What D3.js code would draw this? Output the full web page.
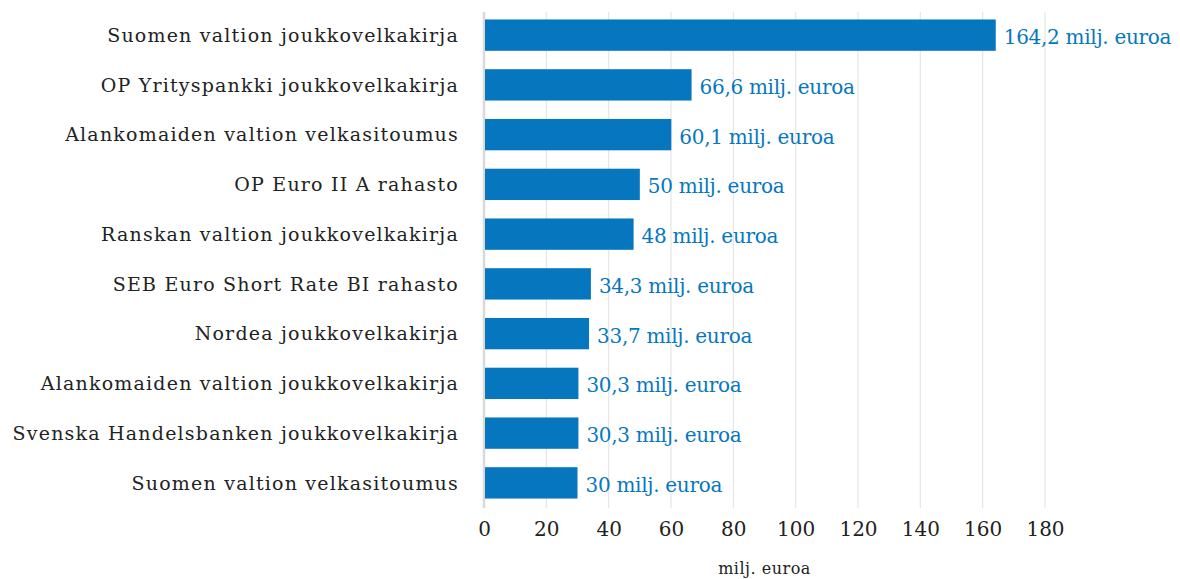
<!DOCTYPE html>
<html>
<head>
<meta charset="utf-8">
<script src="https://cdn.jsdelivr.net/npm/d3@7"></script>
<style>
  body { margin: 0; background: #fff; }
</style>
</head>
<body>
<div id="bar"></div>
<script>
// data
let categories = [
    "Suomen valtion joukkovelkakirja",
    "OP Yrityspankki joukkovelkakirja",
    "Alankomaiden valtion velkasitoumus",
    "OP Euro II A rahasto",
    "Ranskan valtion joukkovelkakirja",
    "SEB Euro Short Rate BI rahasto",
    "Nordea joukkovelkakirja",
    "Alankomaiden valtion joukkovelkakirja",
    "Svenska Handelsbanken joukkovelkakirja",
    "Suomen valtion velkasitoumus"
];
let values = [164.2, 66.6, 60.1, 50, 48, 34.3, 33.7, 30.3, 30.3, 30];
let valueLabels = ["164,2", "66,6", "60,1", "50", "48", "34,3", "33,7", "30,3", "30,3", "30"];
let ticks = [0, 20, 40, 60, 80, 100, 120, 140, 160, 180];
let axisTitle = "milj. euroa";

// svg parameters
let width = 1180;
let height = 579;

let svg = d3.select("#bar").append("svg")
    .attr("width", width).attr("height", height);

var margin = { top: 12, right: 135, bottom: 71, left: 484 };
var chartWidth = width - margin.left - margin.right;
var chartHeight = height - margin.top - margin.bottom;

let chartGroup = svg.append("g")
    .attr("transform", `translate(${margin.left}, ${margin.top})`);

// scales
var xScale = d3.scaleLinear()
    .domain([0, 180])
    .range([0, 561]);

var yScale = d3.scaleBand()
    .domain(categories)
    .range([0, chartHeight])
    .paddingInner(0.37)
    .paddingOuter(0.17);

// gridlines
chartGroup.selectAll(".grid")
    .data(ticks)
    .enter()
    .append("line")
    .attr("x1", d => xScale(d))
    .attr("x2", d => xScale(d))
    .attr("y1", 0)
    .attr("y2", chartHeight)
    .attr("stroke", d => d === 0 ? "#d9d9d9" : "#e6e6e6")
    .attr("stroke-width", d => d === 0 ? 2.5 : 1.2);

// x axis
var xAxis = d3.axisBottom(xScale)
    .tickValues(ticks)
    .tickSize(0)
    .tickPadding(14);

let axisG = chartGroup.append("g")
    .attr("transform", `translate(0, ${chartHeight})`)
    .call(xAxis);
axisG.select(".domain").remove();
axisG.selectAll("text")
    .attr("font-family", "'DejaVu Serif', serif")
    .attr("font-size", "20px")
    .attr("fill", "#222");

// axis title
svg.append("text")
    .attr("x", margin.left + xScale(90))
    .attr("y", 574)
    .attr("text-anchor", "middle")
    .attr("font-family", "'DejaVu Serif', serif")
    .attr("font-size", "16px")
    .attr("letter-spacing", "0.5px")
    .attr("fill", "#222")
    .text(axisTitle);

// bars
chartGroup.selectAll(".bar")
    .data(values)
    .enter()
    .append("rect")
    .attr("class", "bar")
    .attr("x", 1)
    .attr("y", (d, i) => yScale(categories[i]) - 1)
    .attr("width", d => xScale(d) - 1)
    .attr("height", yScale.bandwidth())
    .attr("fill", "#0677be");

// category labels
chartGroup.selectAll(".cat")
    .data(categories)
    .enter()
    .append("text")
    .attr("class", "cat")
    .attr("x", -25)
    .attr("y", d => yScale(d) + yScale.bandwidth() / 2)
    .attr("dy", "0.3em")
    .attr("text-anchor", "end")
    .attr("font-family", "'DejaVu Serif', serif")
    .attr("font-size", "19px")
    .attr("letter-spacing", "1.2px")
    .attr("fill", "#222")
    .text(d => d);

// value labels
chartGroup.selectAll(".val")
    .data(values)
    .enter()
    .append("text")
    .attr("class", "val")
    .attr("x", d => xScale(d) + 8)
    .attr("y", (d, i) => yScale(categories[i]) + yScale.bandwidth() / 2)
    .attr("dy", "0.4em")
    .attr("font-family", "'DejaVu Serif', serif")
    .attr("font-size", "20px")
    .attr("letter-spacing", "-0.3px")
    .attr("fill", "#0677be")
    .text((d, i) => `${valueLabels[i]} milj. euroa`);
</script>
</body>
</html>
